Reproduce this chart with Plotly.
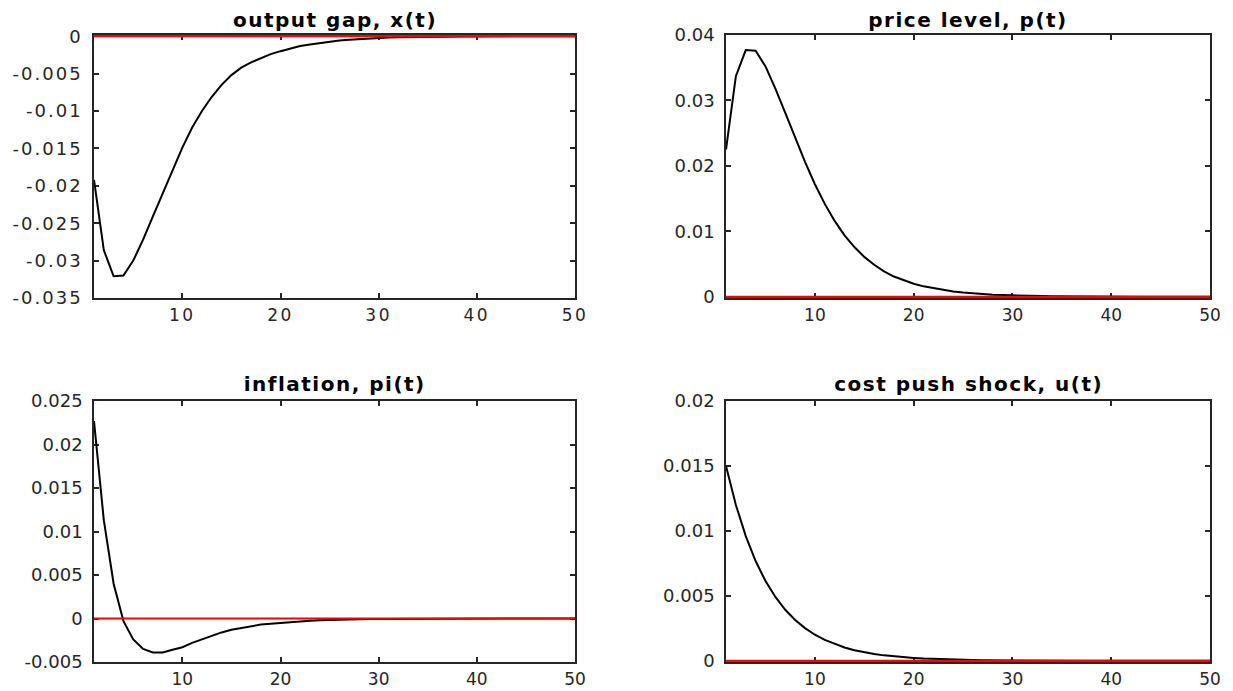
import plotly.graph_objects as go

# periods
t = list(range(1, 51))

# impulse responses
output_gap = [-0.0192, -0.0286, -0.0321, -0.0320, -0.0300, -0.0272, -0.0241, -0.0210, -0.0179, -0.0149,
              -0.0122, -0.0100, -0.0081, -0.0065, -0.0052, -0.0042, -0.0035, -0.0029, -0.0024, -0.0020,
              -0.0016, -0.0013, -0.0011, -0.0009, -0.0007, -0.00057, -0.00046, -0.00037, -0.0003, -0.00024,
              -0.00019, -0.00015, -0.00012, -0.0001, -0.00008, -0.00006, -0.00005, -0.00004, -0.00003, -0.00003,
              -0.00002, -0.00002, -0.00001, -0.00001, -0.00001, -0.00001, -0.00001, 0.0, 0.0, 0.0]

price_level = [0.0225, 0.0337, 0.0377, 0.0376, 0.0352, 0.0318, 0.0281, 0.0243, 0.0206, 0.0172,
               0.0142, 0.0116, 0.0094, 0.0076, 0.0061, 0.0049, 0.0039, 0.0031, 0.0025, 0.0020,
               0.0016, 0.0013, 0.0010, 0.0008, 0.00065, 0.00052, 0.00042, 0.00033, 0.00027, 0.00021,
               0.00017, 0.00014, 0.00011, 0.00009, 0.00007, 0.00006, 0.00005, 0.00004, 0.00003, 0.00002,
               0.00002, 0.00002, 0.00001, 0.00001, 0.00001, 0.00001, 0.00001, 0.0, 0.0, 0.0]

inflation = [0.0227, 0.0113, 0.0040, -0.0003, -0.0024, -0.0035, -0.0039, -0.0039, -0.0036, -0.0033,
             -0.0028, -0.0024, -0.0020, -0.0016, -0.0013, -0.0011, -0.0009, -0.0007, -0.0006, -0.0005,
             -0.0004, -0.0003, -0.00026, -0.00021, -0.00017, -0.00014, -0.00011, -0.00009, -0.00007, -0.00006,
             -0.00005, -0.00004, -0.00003, -0.00003, -0.00002, -0.00002, -0.00001, -0.00001, -0.00001, -0.00001,
             0.0, 0.0, 0.0, 0.0, 0.0, 0.0, 0.0, 0.0, 0.0, 0.0]

cost_push = [0.015, 0.012, 0.0096, 0.00768, 0.00614, 0.00492, 0.00393, 0.00315, 0.00252, 0.00201,
             0.00161, 0.00129, 0.00103, 0.00082, 0.00066, 0.00053, 0.00042, 0.00034, 0.00027, 0.00022,
             0.00017, 0.00014, 0.00011, 0.00009, 0.00007, 0.00006, 0.00005, 0.00004, 0.00003, 0.00002,
             0.00002, 0.00002, 0.00001, 0.00001, 0.00001, 0.00001, 0.0, 0.0, 0.0, 0.0,
             0.0, 0.0, 0.0, 0.0, 0.0, 0.0, 0.0, 0.0, 0.0, 0.0]

zero_line = [0.0] * 50

titles = ["output gap, x(t)", "price level, p(t)", "inflation, pi(t)", "cost push shock, u(t)"]
series = [output_gap, price_level, inflation, cost_push]

x_ticks = [10, 20, 30, 40, 50]
y_ticks = [
    [-0.035, -0.03, -0.025, -0.02, -0.015, -0.01, -0.005, 0],
    [0, 0.01, 0.02, 0.03, 0.04],
    [-0.005, 0, 0.005, 0.01, 0.015, 0.02, 0.025],
    [0, 0.005, 0.01, 0.015, 0.02],
]
y_tick_text = [
    ["-0.035", "-0.03", "-0.025", "-0.02", "-0.015", "-0.01", "-0.005", "0"],
    ["0", "0.01", "0.02", "0.03", "0.04"],
    ["-0.005", "0", "0.005", "0.01", "0.015", "0.02", "0.025"],
    ["0", "0.005", "0.01", "0.015", "0.02"],
]
# ranges (zero at a frame edge is nudged ~1px so the red zero line is not clipped)
y_ranges = [[-0.035, 0.00016], [-0.00018, 0.04], [-0.005, 0.025], [-0.00009, 0.02]]

W, H = 1233, 691
x_domains = [[94 / W, 575 / W], [726 / W, 1210 / W]]
y_domains = [[1 - 298 / H, 1 - 35 / H], [1 - 662 / H, 1 - 401 / H]]

fig = go.Figure()
axis_color = "#262626"
y_tick_font = dict(family="DejaVu Sans", size=18, color=axis_color)
x_tick_font = dict(family="DejaVu Sans", size=17, color=axis_color)

for i in range(4):
    row, col = divmod(i, 2)
    xa = "x" if i == 0 else f"x{i + 1}"
    ya = "y" if i == 0 else f"y{i + 1}"
    fig.add_trace(go.Scatter(x=t, y=series[i], mode="lines", xaxis=xa, yaxis=ya,
                             line=dict(color="black", width=2), showlegend=False, hoverinfo="skip"))
    fig.add_trace(go.Scatter(x=t, y=zero_line, mode="lines", xaxis=xa, yaxis=ya,
                             line=dict(color="#ff0000", width=2.2), showlegend=False, hoverinfo="skip"))
    xkey = "xaxis" if i == 0 else f"xaxis{i + 1}"
    ykey = "yaxis" if i == 0 else f"yaxis{i + 1}"
    fig.update_layout({
        xkey: dict(domain=x_domains[col], anchor=ya, range=[1, 50], tickvals=x_ticks,
                   ticktext=[str(v) for v in x_ticks], ticks="inside", ticklen=5, tickwidth=1.5,
                   tickcolor=axis_color, showline=True, linecolor=axis_color, linewidth=1.5,
                   mirror="allticks", showgrid=False, zeroline=False, tickfont=x_tick_font,
                   layer="below traces", ticklabelstandoff=1, fixedrange=True, automargin=False),
        ykey: dict(domain=y_domains[row], anchor=xa, range=y_ranges[i], tickvals=y_ticks[i],
                   ticktext=y_tick_text[i], ticks="inside", ticklen=5, tickwidth=1.5,
                   tickcolor=axis_color, showline=True, linecolor=axis_color, linewidth=1.5,
                   mirror="allticks", showgrid=False, zeroline=False, tickfont=y_tick_font,
                   layer="below traces", ticklabelstandoff=6, fixedrange=True, automargin=False),
    })
    title_y = 1 - 20 / H if row == 0 else 1 - 384 / H
    fig.add_annotation(text=titles[i], xref="paper", yref="paper",
                       x=sum(x_domains[col]) / 2, y=title_y, xanchor="center", yanchor="middle",
                       showarrow=False,
                       font=dict(family="DejaVu Sans", size=20, color="black", weight="bold"))

fig.update_layout(width=W, height=H, autosize=False, margin=dict(l=0, r=0, t=0, b=0, autoexpand=False),
                  paper_bgcolor="white", plot_bgcolor="white")

post = """
document.body.style.margin = '0';
document.body.style.padding = '0';
var gd = document.getElementById('{plot_id}');
function widen() {
  gd.querySelectorAll('.xtick text').forEach(function(e){ e.style.letterSpacing = '2.5px'; });
  gd.querySelectorAll('.ytick text').forEach(function(e){ e.style.letterSpacing = '2px'; });
  gd.querySelectorAll('.annotation-text').forEach(function(e){ e.style.letterSpacing = '1.5px'; });
}
widen();
gd.on('plotly_afterplot', widen);
"""

fig.write_html("out.html", config={"displayModeBar": False}, post_script=post)
